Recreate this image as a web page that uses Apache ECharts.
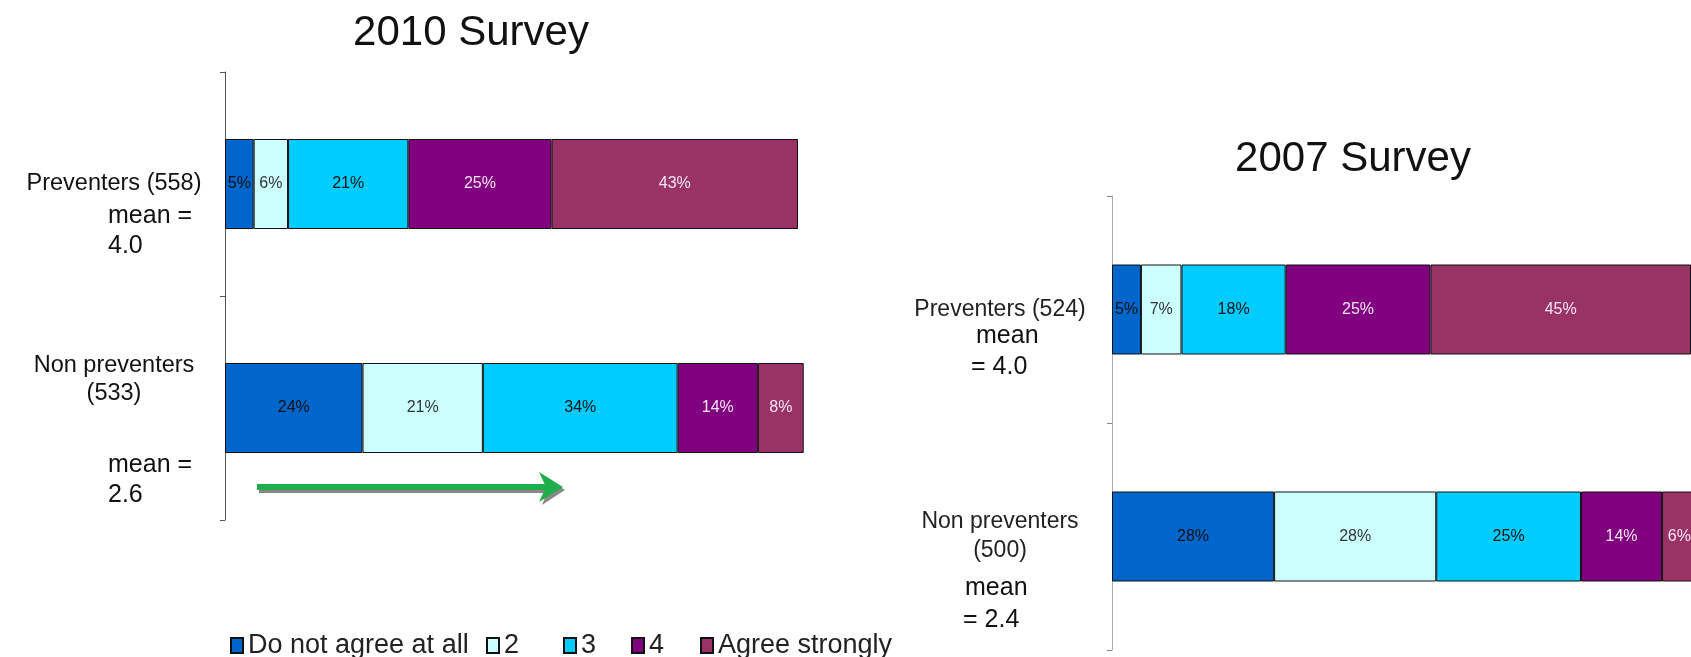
<!DOCTYPE html>
<html><head><meta charset="utf-8">
<script src="https://cdn.jsdelivr.net/npm/echarts@6/dist/echarts.min.js"></script>
<style>html,body{margin:0;padding:0;background:#fff}#c{width:1691px;height:657px}</style>
</head><body><div id="c"></div>
<script>
const seriesNames = ['Do not agree at all', '2', '3', '4', 'Agree strongly'];
const categories2010 = ['Preventers (558)', 'Non preventers\n(533)'];
const categories2007 = ['Preventers (524)', 'Non preventers\n(500)'];
const values2010 = [[5, 24], [6, 21], [21, 34], [25, 14], [43, 8]];
const values2007 = [[5, 28], [7, 28], [18, 25], [25, 14], [45, 6]];
const means2010 = ['4.0', '2.6'];
const means2007 = ['4.0', '2.4'];
const titles = ['2010 Survey', '2007 Survey'];

const colors = ['#0066CC', '#CCFFFF', '#00CCFF', '#800080', '#993366'];
const labelColors = ['#111', '#333', '#111', '#f4e4f4', '#f4e4f4'];
const narrow = "'Liberation Sans Narrow', 'Liberation Sans', sans-serif";
const arial = "'Liberation Sans', Arial, sans-serif";

function makeSeries(values, idx) {
  return values.map((d, i) => ({
    name: seriesNames[i], type: 'bar', stack: 's' + idx,
    xAxisIndex: idx, yAxisIndex: idx, barWidth: 90, clip: false,
    data: d,
    itemStyle: { color: colors[i], borderColor: '#111', borderWidth: 1 },
    label: { show: true, position: 'inside', formatter: '{c}%', color: labelColors[i], fontSize: 16, fontFamily: arial },
    emphasis: { disabled: true }
  }));
}
const legendLeft = [225, 481, 558, 626, 695];

const chart = echarts.init(document.getElementById('c'));
chart.setOption({
  animation: false,
  title: [
    { text: titles[0], left: 466, top: 7, textAlign: 'center', textStyle: { fontSize: 42, fontWeight: 'normal', color: '#111', fontFamily: narrow } },
    { text: titles[1], left: 1348, top: 133, textAlign: 'center', textStyle: { fontSize: 42, fontWeight: 'normal', color: '#111', fontFamily: narrow } }
  ],
  legend: seriesNames.map((n, i) => ({
    data: [n], left: legendLeft[i], top: 627, icon: 'rect', itemWidth: 12, itemHeight: 15, itemGap: 6,
    textStyle: { fontSize: 27, color: '#222', fontFamily: narrow, padding: [0, 0, 0, 0] }, selectedMode: false
  })),
  grid: [
    { left: 225, top: 72, width: 573, height: 448 },
    { left: 1112, top: 196, width: 580, height: 454 }
  ],
  xAxis: [
    { gridIndex: 0, type: 'value', min: 0, max: 100, show: false },
    { gridIndex: 1, type: 'value', min: 0, max: 100, show: false }
  ],
  yAxis: [
    { gridIndex: 0, type: 'category', inverse: true, data: categories2010,
      axisLine: { lineStyle: { color: '#555' } }, axisTick: { show: true, length: 5, lineStyle: { color: '#555' } },
      axisLabel: { margin: 111, align: 'center', fontSize: 23.5, lineHeight: 28, color: '#111', fontFamily: narrow,
        formatter: (v, i) => i === 1 ? v + '\n\n' : v } },
    { gridIndex: 1, type: 'category', inverse: true, data: categories2007,
      axisLine: { lineStyle: { color: '#aaa' } }, axisTick: { show: true, length: 5, lineStyle: { color: '#888' } },
      axisLabel: { margin: 112, align: 'center', fontSize: 23, lineHeight: 29, color: '#222', fontFamily: narrow } }
  ],
  series: makeSeries(values2010, 0).concat(makeSeries(values2007, 1)),
  graphic: [
    { type: 'text', x: 108, y: 216, style: { text: 'mean =', font: '25px ' + narrow, fill: '#111', verticalAlign: 'middle' } },
    { type: 'text', x: 108, y: 246, style: { text: means2010[0], font: '25px ' + narrow, fill: '#111', verticalAlign: 'middle' } },
    { type: 'text', x: 108, y: 465, style: { text: 'mean =', font: '25px ' + narrow, fill: '#111', verticalAlign: 'middle' } },
    { type: 'text', x: 108, y: 495, style: { text: means2010[1], font: '25px ' + narrow, fill: '#111', verticalAlign: 'middle' } },
    { type: 'text', x: 976, y: 336, style: { text: 'mean', font: '25px ' + narrow, fill: '#111', verticalAlign: 'middle' } },
    { type: 'text', x: 971, y: 367, style: { text: '= ' + means2007[0], font: '25px ' + narrow, fill: '#111', verticalAlign: 'middle' } },
    { type: 'text', x: 965, y: 588, style: { text: 'mean', font: '25px ' + narrow, fill: '#111', verticalAlign: 'middle' } },
    { type: 'text', x: 963, y: 620, style: { text: '= ' + means2007[1], font: '25px ' + narrow, fill: '#111', verticalAlign: 'middle' } },
    { type: 'polyline', shape: { points: [[259, 490], [550, 490]] }, style: { stroke: '#888', lineWidth: 6, fill: null } },
    { type: 'polygon', shape: { points: [[542, 475], [565, 490], [542, 505], [548, 490]] }, style: { fill: '#888' } },
    { type: 'polyline', shape: { points: [[257, 487], [548, 487]] }, style: { stroke: '#1fae4b', lineWidth: 6, fill: null } },
    { type: 'polygon', shape: { points: [[539, 472], [563, 487], [539, 502], [546, 487]] }, style: { fill: '#1fae4b' } }
  ]
});
</script></body></html>
